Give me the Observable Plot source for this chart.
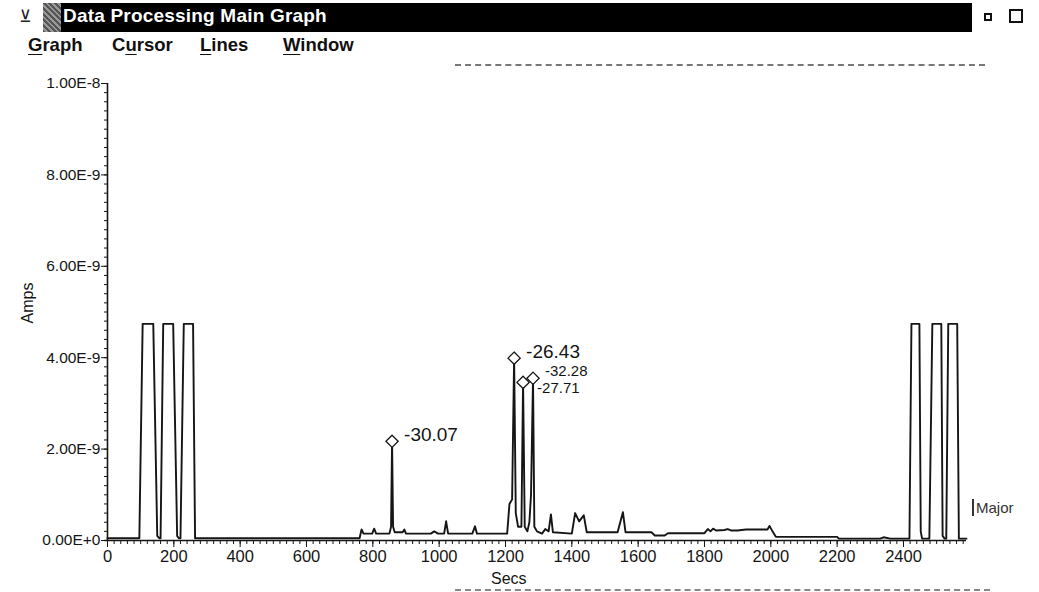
<!DOCTYPE html>
<html>
<head>
<meta charset="utf-8">
<script src="https://cdn.jsdelivr.net/npm/d3@7"></script>
<script src="https://cdn.jsdelivr.net/npm/@observablehq/plot@0.6"></script>
<style>
  body { margin:0; background:#fff; width:1039px; height:592px; position:relative; overflow:hidden; font-family:"Liberation Sans", Arial, sans-serif; }
  .abs { position:absolute; }
  #bar { left:43px; top:3px; width:929px; height:29px; background:#000; }
  #barpatch { left:43px; top:3px; width:18px; height:29px; background:repeating-linear-gradient(45deg,#555 0 2px,#999 2px 4px); }
  #title { left:63px; top:5px; color:#fff; font-weight:bold; font-size:19px; letter-spacing:0.2px; }
  #icon { left:19px; top:6px; font-size:17px; color:#222; font-family:"DejaVu Sans"; }
  #sq1 { left:984px; top:13px; width:4px; height:4px; border:2px solid #111; }
  #sq2 { left:1009px; top:9px; width:10px; height:10px; border:2px solid #111; }
  .menu { top:34px; font-weight:bold; font-size:18.5px; color:#111; }
  .menu u { text-underline-offset:3px; }
  #rule1 { left:455px; top:64px; width:530px; height:0; border-top:2px dashed #777; }
  #rule2 { left:455px; top:589px; width:535px; height:0; border-top:2px dashed #888; }
  #major { left:972px; top:499px; font-size:15px; color:#333; border-left:2px solid #333; padding-left:2px; line-height:17px; }
  #chart { left:0; top:70px; }
</style>
</head>
<body>
<div class="abs" id="bar"></div>
<div class="abs" id="barpatch"></div>
<div class="abs" id="icon">⊻</div>
<div class="abs" id="title">Data Processing Main Graph</div>
<div class="abs" id="sq1"></div>
<div class="abs" id="sq2"></div>
<div class="abs menu" style="left:28px"><u>G</u>raph</div>
<div class="abs menu" style="left:112px">C<u>u</u>rsor</div>
<div class="abs menu" style="left:200px"><u>L</u>ines</div>
<div class="abs menu" style="left:283px"><u>W</u>indow</div>
<div class="abs" id="rule1"></div>
<div class="abs" id="rule2"></div>
<div class="abs" id="major">Major</div>
<div class="abs" id="chart"></div>
<script>
// ---- data ----
const traceSecs = [0,96,106,138,150,156,160,168,198,210,215,220,230,258,264,
  760,766,772,798,804,810,850,855,858,861,866,890,895,900,975,985,997,1015,1021,1027,1100,1108,1114,
  1205,1212,1220,1226,1231,1238,1248,1253,1258,1266,1272,1277,1283,1287,1295,1310,1320,1330,1337,1343,
  1400,1410,1422,1436,1445,1538,1546,1554,1562,1640,1650,1680,1690,1800,1810,1818,1826,1835,1860,1870,
  1880,1900,1925,1990,1996,2005,2015,2200,2205,2330,2340,2360,2418,2424,2448,2452,2456,2478,2487,2514,
  2518,2524,2529,2535,2562,2567,2590];
const traceNanoAmps = [0.05,0.05,4.74,4.74,0.1,0.05,0.05,4.74,4.74,0.1,0.05,0.05,4.74,4.74,0.05,
  0.05,0.24,0.15,0.15,0.26,0.15,0.15,0.3,2.17,0.3,0.18,0.18,0.24,0.15,0.15,0.2,0.15,0.15,0.42,0.15,0.15,0.31,0.15,
  0.15,0.8,0.9,3.99,0.6,0.3,0.3,3.46,0.3,0.2,0.4,1.0,3.55,0.3,0.2,0.15,0.25,0.2,0.57,0.18,
  0.15,0.6,0.42,0.55,0.18,0.18,0.4,0.62,0.18,0.18,0.11,0.11,0.16,0.16,0.25,0.2,0.26,0.22,0.23,0.25,
  0.22,0.22,0.24,0.24,0.32,0.2,0.08,0.08,0.04,0.04,0.07,0.04,0.04,4.74,4.74,0.2,0.04,0.04,4.74,4.74,
  0.1,0.04,0.04,4.74,4.74,0.04,0.04];
const peakSecs = [858, 1226, 1253, 1283];
const peakNanoAmps = [2.17, 3.99, 3.46, 3.55];
const peakLabels = ["-30.07", "-26.43", "-27.71", "-32.28"];
const xTickValues = [0,200,400,600,800,1000,1200,1400,1600,1800,2000,2200,2400];
const xTickLabels = ["0","200","400","600","800","1000","1200","1400","1600","1800","2000","2200","2400"];
const yTickValues = [0, 2e-9, 4e-9, 6e-9, 8e-9, 1e-8];
const yTickLabels = ["0.00E+0","2.00E-9","4.00E-9","6.00E-9","8.00E-9","1.00E-8"];
const xLabel = "Secs";
const yLabel = "Amps";

// ---- tables ----
const trace = traceSecs.map((t, i) => ({t, v: traceNanoAmps[i] * 1e-9}));
const peaks = peakSecs.map((t, i) => ({t, v: peakNanoAmps[i] * 1e-9, label: peakLabels[i], i}));
const xMinor = d3.range(0, 2581, 20);
const yMinor = d3.range(0, 51).map(k => k * 2e-10);

const ink = "#151515";
const font = "'Liberation Sans', Arial, sans-serif";
const chart = Plot.plot({
  width: 1039,
  height: 522,
  marginLeft: 107,
  marginRight: 73,
  marginTop: 13,
  marginBottom: 52,
  style: {fontFamily: font, fontSize: "15px", color: ink, background: "transparent"},
  x: {domain: [0, 2590], label: null},
  y: {domain: [0, 1e-8], label: null},
  marks: [
    Plot.axisY({ticks: yMinor, tickFormat: () => "", tickSize: 3, stroke: ink, label: null}),
    Plot.axisY({ticks: yTickValues, tickFormat: (d, i) => yTickLabels[i], tickSize: 6, tickPadding: 1, fontSize: 15.5, stroke: ink, fill: ink, label: null}),
    Plot.axisX({ticks: xMinor, tickFormat: () => "", tickSize: 4, stroke: ink, label: null}),
    Plot.axisX({ticks: xTickValues, tickFormat: (d, i) => xTickLabels[i], tickSize: 7, tickPadding: 3, fontSize: 16.5, stroke: ink, fill: ink, label: null}),
    Plot.ruleX([0], {y1: 0, y2: 1e-8, stroke: ink, strokeWidth: 1.6}),
    Plot.ruleY([0], {x1: -8, x2: 2590, stroke: ink, strokeWidth: 1.6}),
    Plot.line(trace, {x: "t", y: "v", stroke: ink, strokeWidth: 1.9, strokeLinejoin: "round"}),
    Plot.dot(peaks, {x: "t", y: "v", symbol: "diamond2", r: 5.5, stroke: ink, fill: "white", strokeWidth: 1.3}),
    // single peak labels
    Plot.text(peaks.filter(d => d.i < 2), {x: "t", y: "v", text: "label", dx: 12, dy: -6, textAnchor: "start", fontSize: 19, fill: ink}),
    // crowded pair: smaller and stacked so they do not collide
    Plot.text(peaks.filter(d => d.i === 3), {x: "t", y: "v", text: "label", dx: 12, dy: -7, textAnchor: "start", fontSize: 15, fill: ink}),
    Plot.text(peaks.filter(d => d.i === 2), {x: "t", y: "v", text: "label", dx: 14, dy: 6, textAnchor: "start", fontSize: 15, fill: ink}),
    Plot.text([yLabel], {frameAnchor: "left", y: () => 4.75e-9, dx: -80, rotate: -90, fontSize: 16, fill: ink}),
    Plot.text([xLabel], {frameAnchor: "bottom", lineAnchor: "middle", x: () => 1210, dy: 38, fontSize: 16, fill: ink})
  ]
});
document.getElementById("chart").appendChild(chart);
</script>
</body>
</html>
